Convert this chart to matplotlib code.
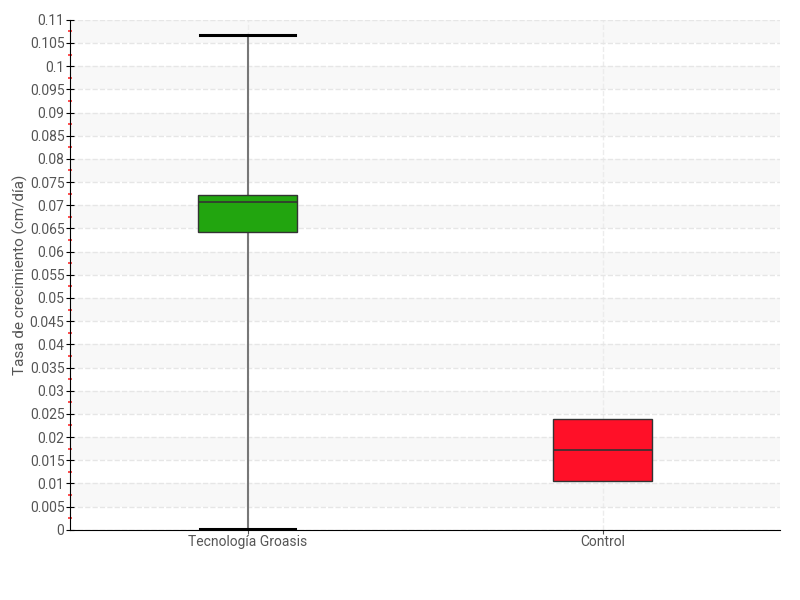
import numpy as np
import matplotlib.pyplot as plt

# datos
grupos = ['Tecnología Groasis', 'Control']
q1 = [0.0643, 0.0106]
mediana = [0.0708, 0.0173]
q3 = [0.0723, 0.0240]
bigote_inf = [0.0002, 0.0106]
bigote_sup = [0.1068, 0.0240]
colores = ['#22a50f', '#ff1028']

plt.rcParams['font.family'] = ['Roboto', 'DejaVu Sans']

fig, ax = plt.subplots(figsize=(8, 6), dpi=100)
fig.subplots_adjust(left=0.0875, right=0.975, top=0.967, bottom=0.117)

# bandas alternas
for k in range(11):
    ax.axhspan(0.005 + 0.01 * k, 0.01 + 0.01 * k, color='#f8f8f8', zorder=0, lw=0)

stats = []
for i, g in enumerate(grupos):
    stats.append({'label': g, 'q1': q1[i], 'med': mediana[i], 'q3': q3[i],
                  'whislo': bigote_inf[i], 'whishi': bigote_sup[i], 'fliers': []})

bp = ax.bxp(stats, positions=[0, 1], widths=0.28, capwidths=0.27, patch_artist=True,
            showfliers=False,
            whiskerprops=dict(color='#777777', lw=1.5),
            capprops=dict(color='black', lw=2.2),
            medianprops=dict(color='#333333', lw=1.2),
            boxprops=dict(lw=1))
for caja, c in zip(bp['boxes'], colores):
    caja.set_facecolor(c)
    caja.set_edgecolor('#333333')
    caja.set_zorder(3)
for m in bp['medians']:
    m.set_zorder(4)
for i, cap in enumerate(bp['caps']):
    if i >= 2:
        cap.set_visible(False)

ax.set_xlim(-0.5, 1.5)
ax.set_ylim(0, 0.11)
yt = np.arange(0, 0.1101, 0.005)
ax.set_yticks(yt)
ax.set_yticklabels(['0'] + [('%.3f' % v).rstrip('0') for v in yt[1:]])
ax.set_yticks(yt[:-1] + 0.0025, minor=True)
ax.tick_params(axis='y', which='major', direction='inout', length=6, color='black',
               labelsize=10, labelcolor='#555555', pad=1)
ax.tick_params(axis='y', which='minor', direction='inout', length=3, width=1.2, color='#ff3030')
ax.tick_params(axis='x', length=3, color='#555555', labelsize=10, labelcolor='#555555', pad=1)
ax.set_xticks([0, 1])
ax.set_xticklabels(grupos)

ax.grid(axis='y', which='major', ls='--', color='#e6e6e6', lw=1, zorder=1)
ax.grid(axis='x', ls='--', color='#ececec', lw=1, zorder=1)
ax.set_axisbelow(True)

for s in ['top', 'right']:
    ax.spines[s].set_visible(False)
ax.spines['left'].set_color('black')
ax.spines['bottom'].set_color('black')

ax.set_ylabel('Tasa de crecimiento (cm/día)', fontsize=11, color='#555555', labelpad=1)

plt.savefig('out.png', dpi=100)
